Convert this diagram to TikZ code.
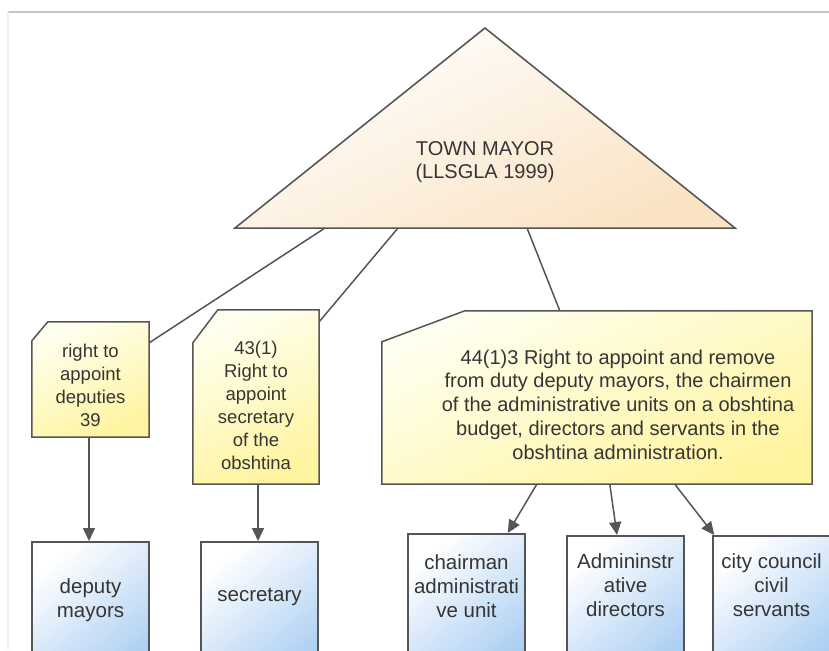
\documentclass[tikz,border=0pt]{standalone}
\usepackage{fontspec}
\setmainfont{Liberation Sans}
\usetikzlibrary{arrows.meta, positioning, calc}
\definecolor{linegray}{HTML}{555555}
\definecolor{textgray}{HTML}{353535}
\definecolor{noteyellow}{HTML}{FFF4A0}
\definecolor{boxblue}{HTML}{A9CDF2}
\definecolor{mayorpeach}{HTML}{FAE3C4}
\tikzstyle{mayor} = [draw=linegray, line width=1.5pt, top color=white, bottom color=mayorpeach, shading angle=25]
\tikzstyle{note} = [draw=linegray, line width=1.5pt, top color=yellow!6, bottom color=noteyellow, shading angle=25]
\tikzstyle{notearea} = [rectangle, inner sep=0pt]
\tikzstyle{office} = [rectangle, draw=linegray, line width=1.5pt, inner sep=0pt, minimum width=117pt, minimum height=150pt, anchor=north, top color=white, bottom color=boxblue, shading angle=40]
\tikzstyle{notetext} = [text=textgray, align=center, inner sep=0pt, font=\fontsize{18.5}{23}\selectfont]
\tikzstyle{officetext} = [text=textgray, align=center, inner sep=0pt, font=\fontsize{20.5}{24}\selectfont]
\tikzstyle{link} = [draw=linegray, line width=1.5pt]
\tikzstyle{arrow} = [link, -{Triangle[width=12pt,length=13pt]}]
% outline of a note with its north west corner cut off
\newcommand{\cutnote}[3]{\path[note] ($(#1.north west)+(0,#3)$) -- ($(#1.north west)+(#2,0)$) -- (#1.north east) -- (#1.south east) -- (#1.south west) -- cycle;}

\begin{document}
\begin{tikzpicture}[x=1pt, y=-1pt]
        \useasboundingbox (0,0) rectangle (829,650);
        \clip (0,0) rectangle (829,650);
        \fill[white] (0,0) rectangle (829,650);
        % page frame
        \draw[gray!45, line width=1.2pt] (8,12) -- (829,12);
        \draw[gray!12, line width=1.2pt] (8,12) -- (8,650);

        % Town mayor triangle
        \coordinate (apex) at (485,28);
        \coordinate (base_w) at (235,228);
        \coordinate (base_e) at (735,228);
        \path[mayor] (base_w) -- (apex) -- (base_e) -- cycle;
        \node (mayor) [notetext, font=\fontsize{20}{23}\selectfont] at (485,162) {TOWN MAYOR\\(LLSGLA 1999)};
        \coordinate (tap1) at ($(base_w)!0.18!(base_e)$);
        \coordinate (tap2) at ($(base_w)!0.326!(base_e)$);
        \coordinate (tap3) at ($(base_w)!0.584!(base_e)$);

        % Rights of the mayor
        \node (rt_deputies) [notearea, minimum width=117pt, minimum height=115pt] at (90.5,379.5) {};
        \node (rt_secretary) [notearea, minimum width=126pt, minimum height=174pt] at (256,397) {};
        \node (rt_remove) [notearea, minimum width=430pt, minimum height=173pt] at (597,397.5) {};
        \cutnote{rt_deputies}{16}{19}
        \cutnote{rt_secretary}{25}{33}
        \cutnote{rt_remove}{83}{31}
        \node (rt_deputies_txt) [notetext] at ($(rt_deputies.center)+(0,6)$) {right to\\appoint\\deputies\\39};
        \node (rt_secretary_txt) [notetext] at ($(rt_secretary.center)+(0,8)$) {43(1)\\Right to\\appoint\\secretary\\of the\\obshtina};
        \node (rt_remove_txt) [notetext, font=\fontsize{20}{23.7}\selectfont] at ($(rt_remove.center)+(21,7)$) {44(1)3 Right to appoint and remove\\from duty deputy mayors, the chairmen\\of the administrative units on a obshtina\\budget, directors and servants in the\\obshtina administration.};

        % Appointed offices
        \node (dep_mayors) [office] at (90.5,541) {};
        \node (secretary) [office] at (259.5,541) {};
        \node (chairman) [office] at (466.5,533) {};
        \node (adm_directors) [office] at (625.5,535) {};
        \node (civil_servants) [office] at (771.5,535) {};
        \node (dep_mayors_txt) [officetext] at ($(dep_mayors.north)+(0,59)$) {deputy\\mayors};
        \node (secretary_txt) [officetext] at ($(secretary.north)+(0,56)$) {secretary};
        \node (chairman_txt) [officetext] at ($(chairman.north)+(0,53)$) {chairman\\administrati\\ve unit};
        \node (adm_directors_txt) [officetext] at ($(adm_directors.north)+(0,50)$) {Admininstr\\ative\\directors};
        \node (civil_servants_txt) [officetext] at ($(civil_servants.north)+(0,50)$) {city council\\civil\\servants};

        % Triangle to rights
        \draw[link] (tap1) -- ($(rt_deputies.north east)+(0,21)$);
        \draw[link] (tap2) -- ($(rt_secretary.north east)+(0,12)$);
        \draw[link] (tap3) -- ($(rt_remove.north west)+(178,0)$);

        % Rights to offices
        \draw[arrow] ($(rt_deputies.south)+(-1.5,0)$) -- ($(dep_mayors.north)+(-1.5,0)$);
        \draw[arrow] ($(rt_secretary.south)+(2,0)$) -- ($(secretary.north)+(-1.5,0)$);
        \draw[arrow] ($(rt_remove.south west)+(155,0)$) -- ($(chairman.north east)+(-18,0)$);
        \draw[arrow] ($(rt_remove.south west)+(228,0)$) -- ($(adm_directors.north)+(-8.5,0)$);
        \draw[arrow] ($(rt_remove.south west)+(293,0)$) -- ($(civil_servants.north west)+(2,0)$);
\end{tikzpicture}
\end{document}
